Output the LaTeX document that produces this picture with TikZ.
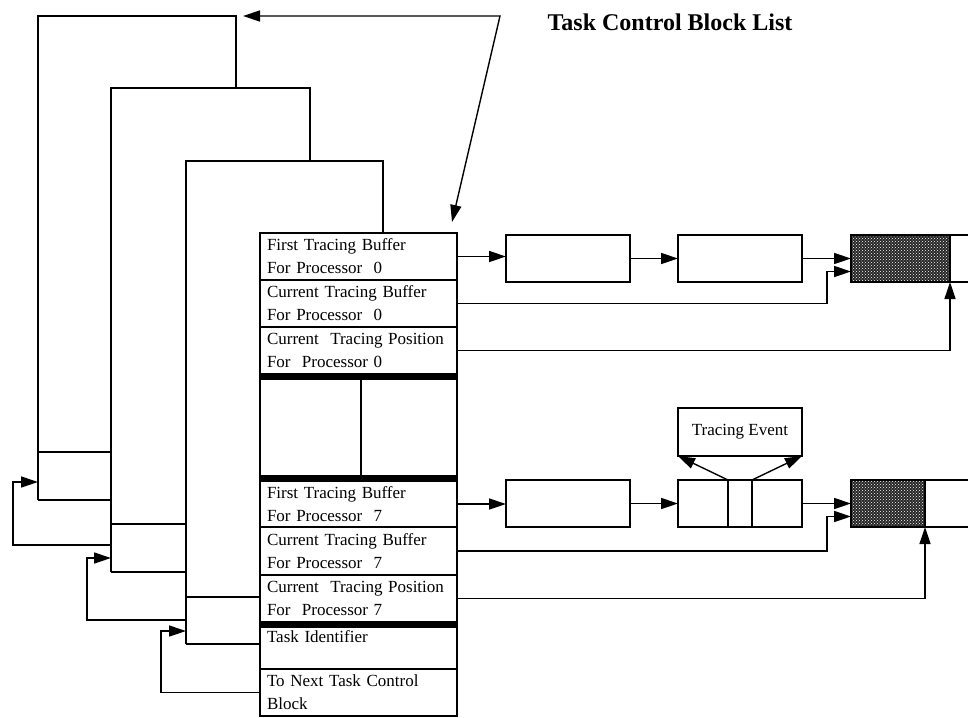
\documentclass[tikz,border=0pt]{standalone}
\usepackage{fontspec}
\setmainfont{Liberation Serif}
\usetikzlibrary{positioning,arrows.meta,patterns}

\begin{document}
\begin{tikzpicture}[x=1pt,y=-1pt,line width=1.4pt,node distance=0pt,
  >={Triangle[length=17pt,width=11pt]},
  tcbrow/.style={draw,rectangle,outer sep=0pt,inner xsep=7pt,inner ysep=0pt,
    minimum width=197pt,text width=183pt,align=left,
    font=\fontsize{17}{23}\selectfont},
  sepbar/.style={draw,fill=black,outer sep=0pt,inner sep=0pt,
    minimum width=197pt,minimum height=5pt},
  bufbox/.style={draw,rectangle,outer sep=0pt,inner sep=0pt,minimum height=47pt},
  hatched/.style={bufbox,preaction={fill=black!85},pattern=crosshatch dots,
    pattern color=white}]

\useasboundingbox (0,0) rectangle (968,717);
\clip (0,0) rectangle (968,717);

\node[font=\fontsize{24}{28}\selectfont\bfseries] (title) at (670,22) {Task Control Block List};

% blocks further down the list
\draw (38,500) -- (38,16) -- (236,16) -- (236,88);
\draw (38,452) -- (111,452);
\draw (38,500) -- (111,500);
\draw (111,572) -- (111,88) -- (310,88) -- (310,161);
\draw (111,524) -- (186,524);
\draw (111,572) -- (186,572);
\draw (186,644) -- (186,161) -- (383,161) -- (383,233);
\draw (186,597) -- (260,597);
\draw (186,644) -- (260,644);

% front block
\node[tcbrow,minimum height=47pt,anchor=north west] (ftb0) at (260,233) {First Tracing Buffer\\For Processor~~0};
\node[tcbrow,minimum height=47pt,below=of ftb0] (ctb0) {Current Tracing Buffer\\For Processor~~0};
\node[tcbrow,minimum height=47pt,below=of ctb0] (ctp0) {Current~~Tracing Position\\For~~Processor 0};
\node[sepbar,below=of ctp0] (sep1) {};
\node[bufbox,minimum width=101pt,minimum height=97pt,anchor=north west] (midl) at (sep1.south west) {};
\node[bufbox,minimum width=96pt,minimum height=97pt,right=of midl] (midr) {};
\node[sepbar,anchor=north west] (sep2) at (midl.south west) {};
\node[tcbrow,minimum height=46pt,below=of sep2] (ftb7) {First Tracing Buffer\\For Processor~~7};
\node[tcbrow,minimum height=48pt,below=of ftb7] (ctb7) {Current Tracing Buffer\\For Processor~~7};
\node[tcbrow,minimum height=47pt,below=of ctb7] (ctp7) {Current~~Tracing Position\\For~~Processor 7};
\node[sepbar,below=of ctp7] (sep3) {};
\node[tcbrow,minimum height=42pt,below=of sep3] (tid) {Task Identifier\\\mbox{}};
\node[tcbrow,minimum height=47pt,below=of tid] (nxt) {To Next Task Control\\Block};

% buffers for processor 0
\node[bufbox,minimum width=124pt,anchor=north west] (bufa0) at (506,235) {};
\node[bufbox,minimum width=124pt,anchor=north west] (bufb0) at (678,235) {};
\node[hatched,minimum width=99pt,anchor=north west] (full0) at (851,235) {};
\node[bufbox,minimum width=60pt,right=of full0] (free0) {};

% buffers for processor 7
\node[bufbox,minimum width=124pt,anchor=north west] (bufa7) at (506,480) {};
\node[bufbox,minimum width=50pt,anchor=north west] (ev1) at (678,480) {};
\node[bufbox,minimum width=24pt,right=of ev1] (ev2) {};
\node[bufbox,minimum width=50pt,right=of ev2] (ev3) {};
\node[hatched,minimum width=74pt,anchor=north west] (full7) at (851,480) {};
\node[bufbox,minimum width=60pt,right=of full7] (free7) {};
\node[bufbox,minimum width=124pt,minimum height=48pt,anchor=north west,
  font=\fontsize{17}{20}\selectfont] (event) at (678,408) {Tracing Event};

% list head
\coordinate (head) at (243,16);
\coordinate (bend) at (500,16);
\draw[<->] (head) -- (bend) -- ([xshift=-5pt,yshift=11pt]ftb0.north east);

% links between blocks
\coordinate (tcb1) at (38,482);
\coordinate (tcb1out) at (111,545);
\coordinate (tcb2) at (111,558);
\coordinate (tcb2out) at (186,620);
\coordinate (tcb3) at (186,631);
\draw[->] (nxt.west) -| ([xshift=-25pt]tcb3) -- (tcb3);
\draw[->] (tcb2out) -| ([xshift=-24pt]tcb2) -- (tcb2);
\draw[->] (tcb1out) -| ([xshift=-25pt]tcb1) -- (tcb1);

% processor 0 pointers
\draw[->] (ftb0.east) -- (ftb0.east -| bufa0.west);
\draw[->] (bufa0) -- (bufb0);
\draw[->] (bufb0) -- (full0);
\draw[->] (ctb0.east) -| ([xshift=-24pt,yshift=-13pt]full0.west) -- ([yshift=-13pt]full0.west);
\draw[->] (ctp0.east) -| (full0.south east);

% processor 7 pointers
\draw[->] (ftb7.east) -- (ftb7.east -| bufa7.west);
\draw[->] (bufa7) -- (ev1);
\draw[->] (ev3) -- (full7);
\draw[->] (ctb7.east) -| ([xshift=-24pt,yshift=-13pt]full7.west) -- ([yshift=-13pt]full7.west);
\draw[->] (ctp7.east) -| (full7.south east);
\draw[->] (ev2.north west) -- (event.south west);
\draw[->] (ev2.north east) -- (event.south east);
\end{tikzpicture}
\end{document}
